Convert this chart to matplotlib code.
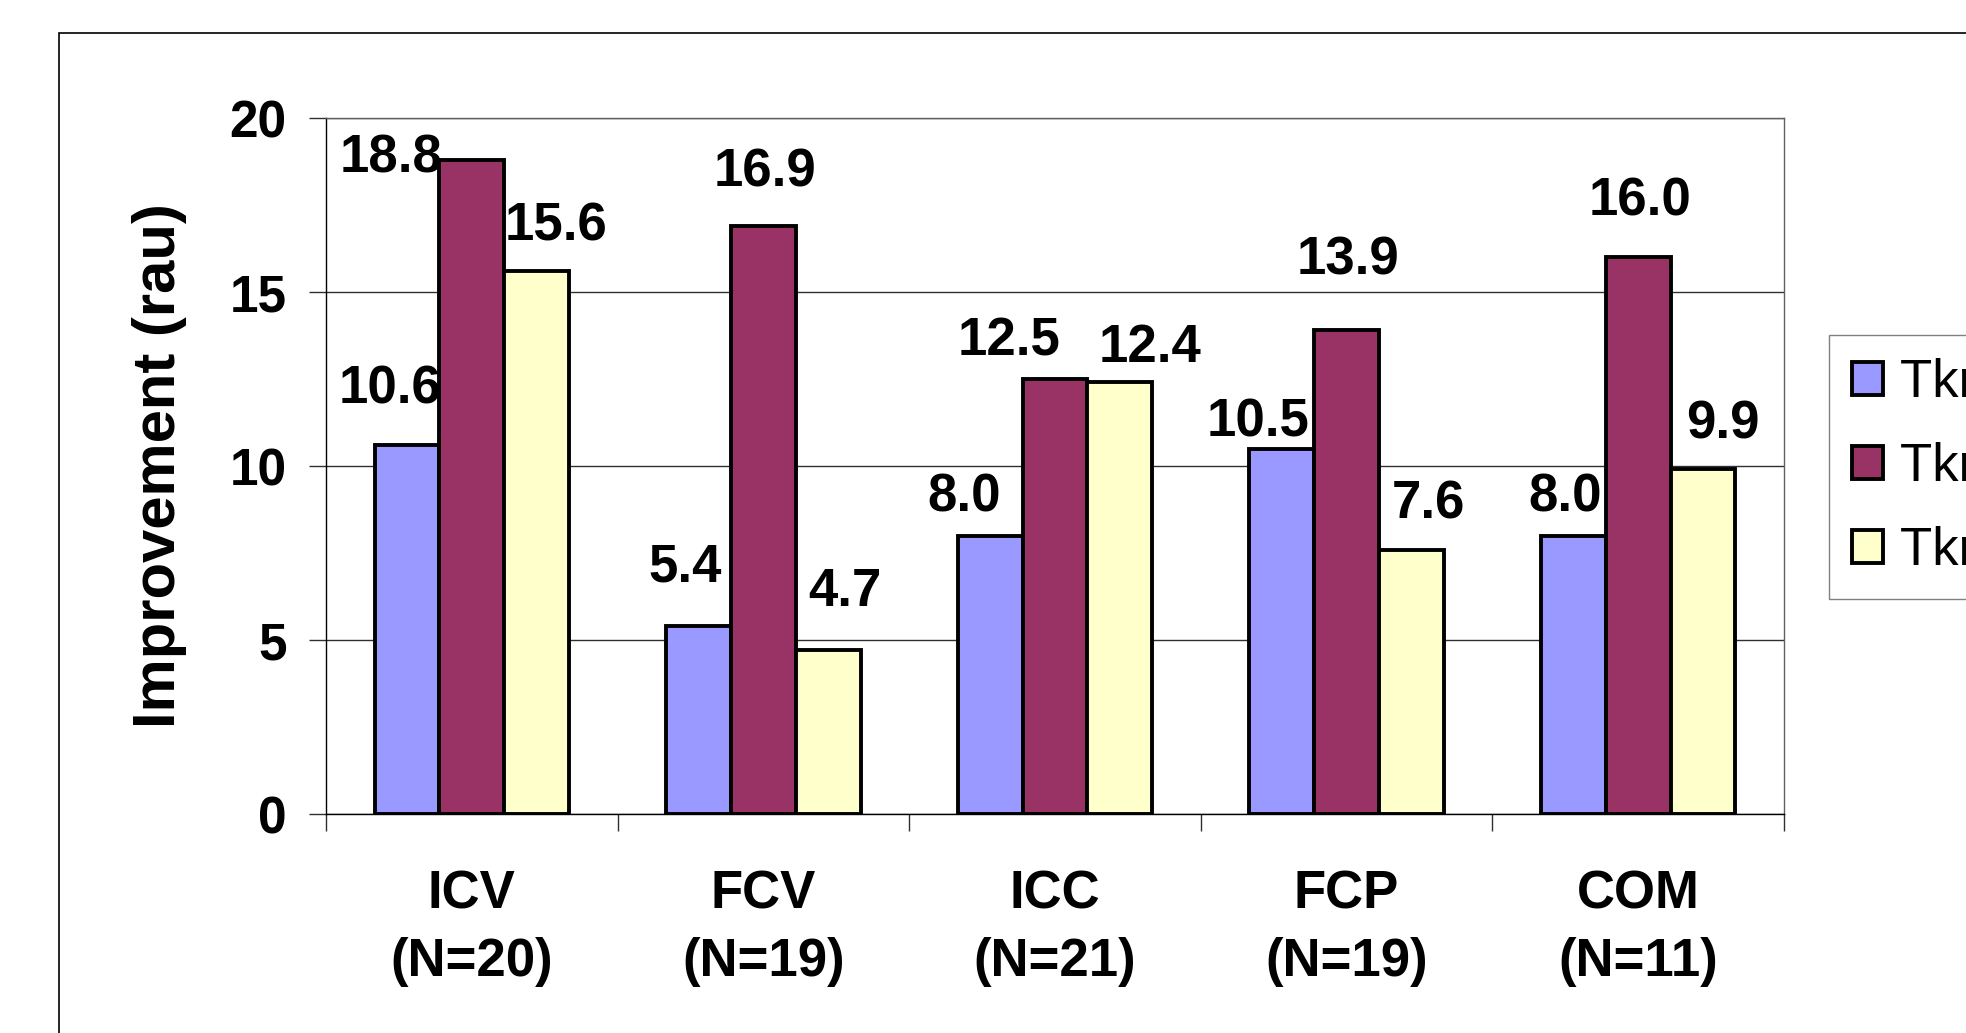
import matplotlib
matplotlib.use("Agg")
import matplotlib.pyplot as plt
from matplotlib.patches import Rectangle, Patch
import numpy as np

plt.rcParams['font.family'] = ['Liberation Sans', 'DejaVu Sans']

# ---- data ----
categories = ["ICV\n(N=20)", "FCV\n(N=19)", "ICC\n(N=21)", "FCP\n(N=19)", "COM\n(N=11)"]
series_names = ["Tkn 1", "Tkn 2", "Tkn 3"]
series_a = [10.6, 5.4, 8.0, 10.5, 8.0]
series_b = [18.8, 16.9, 12.5, 13.9, 16.0]
series_c = [15.6, 4.7, 12.4, 7.6, 9.9]
y_ticks = [0, 5, 10, 15, 20]
y_label = "Improvement (rau)"

# ---- styling ----
colors = ["#9999FF", "#993366", "#FFFFCC"]
# label offsets (points) from each bar's top centre, per series and category
label_dx = [[-12, -10, -19, -17, -6],
            [-58, 1, -33, 1, 1],
            [14, 12, 22, 12, 14]]
label_dy = [[30, 32, 17, 9, 17],
            [-9, 28, 17, 40, 30],
            [22, 32, 15, 22, 22]]

W, H = 1966, 1033
fig = plt.figure(figsize=(W / 100, H / 100), dpi=100)
ax = fig.add_axes([326 / W, 1 - 814 / H, (1784 - 326) / W, (814 - 118) / H])

# outer chart frame (runs past the right and bottom edges)
frame_top = 1 - 33 / H
fig.add_artist(Rectangle((59 / W, -0.2), 1.5, frame_top + 0.2,
                         transform=fig.transFigure, fill=False,
                         lw=1.2, ec="black", zorder=0))

x = np.arange(len(categories))
width = 1 / 1.5 / 3
all_series = [series_a, series_b, series_c]
for i, (vals, col, name) in enumerate(zip(all_series, colors, series_names)):
    xs = x + (i - 1) * width
    ax.bar(xs, vals, width=width, color=col, edgecolor="black",
           linewidth=2.8, label=name, zorder=3)
    for j, v in enumerate(vals):
        ax.annotate(f"{v:.1f}", xy=(xs[j], v),
                    xytext=(label_dx[i][j], label_dy[i][j]),
                    textcoords="offset points", ha="center", va="baseline",
                    fontsize=38, fontweight="bold", zorder=5,
                    annotation_clip=False)

ax.set_xlim(-0.5, len(categories) - 0.5)
ax.set_ylim(0, 20)

# y axis
ax.set_yticks(y_ticks)
ax.set_yticklabels([str(t) for t in y_ticks], fontsize=37, fontweight="bold")
ax.tick_params(axis="y", direction="out", length=12, width=1, pad=16.5,
               color="#303030")
ax.yaxis.grid(True, color="#303030", lw=1.0, zorder=0)
ax.set_axisbelow(True)
ax.set_ylabel(y_label, fontsize=43, fontweight="bold", va="center")
ax.yaxis.set_label_coords(-0.1139, 0.5)

# x axis: boundary ticks and centred category labels
ax.set_xticks(np.arange(-0.5, len(categories), 1.0))
ax.set_xticklabels([])
ax.tick_params(axis="x", which="major", direction="out", length=12,
               width=1, color="#303030")
ax.set_xticks(x, minor=True)
ax.set_xticklabels(categories, minor=True, fontsize=38, fontweight="bold",
                   linespacing=1.45)
ax.tick_params(axis="x", which="minor", length=0, pad=40)

for side in ("top", "right"):
    ax.spines[side].set_color("#606060")
    ax.spines[side].set_linewidth(1.0)
for side in ("left", "bottom"):
    ax.spines[side].set_color("black")
    ax.spines[side].set_linewidth(1.0)

handles = [Patch(facecolor=c, edgecolor="black", linewidth=2.8) for c in colors]
leg = fig.legend(handles, series_names, loc="upper left",
                 bbox_to_anchor=(1829 / W, 1 - 335 / H),
                 bbox_transform=fig.transFigure, fontsize=38,
                 frameon=True, fancybox=False, borderaxespad=0,
                 handlelength=0.59, handleheight=0.59, handletextpad=0.32,
                 borderpad=0.44, labelspacing=0.64)
leg.get_frame().set_edgecolor("#606060")
leg.get_frame().set_linewidth(1.0)

fig.savefig("out.png", dpi=100)
